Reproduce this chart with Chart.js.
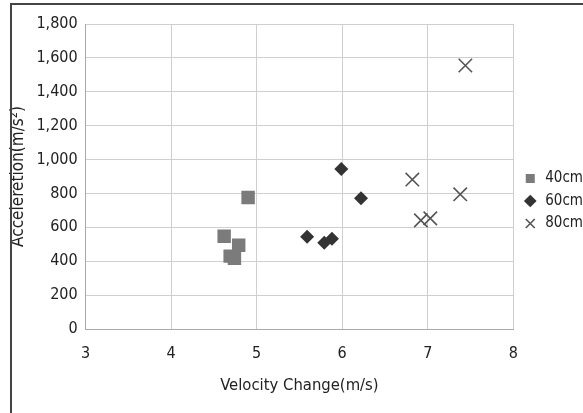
<!DOCTYPE html>
<html>

<head>
    <title>Acceleration vs Velocity Change</title>
    <script src="https://cdn.jsdelivr.net/npm/chart.js"></script>
    <style>
        body { margin: 0; background: #fff; overflow: hidden; }
        #wrap { position: relative; width: 583px; height: 413px; }
        #frame {
            position: absolute; left: 10px; top: 3px; width: 600px; height: 500px;
            border-top: 2px solid #444; border-left: 2px solid #444; pointer-events: none;
        }
    </style>
</head>

<body>
    <div id="wrap">
        <canvas id="myChart" width="583" height="413"></canvas>
        <div id="frame"></div>
    </div>

    <script>
        // values
        const seriesNames = ['40cm', '60cm', '80cm'];
        const vel40 = [4.62, 4.79, 4.69, 4.74, 4.90];
        const acc40 = [547, 494, 430, 418, 776];
        const vel60 = [5.59, 5.79, 5.88, 5.99, 6.22];
        const acc60 = [545, 509, 533, 945, 772];
        const vel80 = [6.82, 6.92, 7.03, 7.38, 7.44];
        const acc80 = [882, 641, 653, 795, 1555];
        const xTicks = [3, 4, 5, 6, 7, 8];
        const yTicks = [0, 200, 400, 600, 800, 1000, 1200, 1400, 1600, 1800];

        const font = "'Liberation Sans Narrow', 'DejaVu Sans Condensed', Arial, sans-serif";
        const toPoints = (xs, ys) => xs.map((x, i) => ({ x, y: ys[i] }));

        // nudge the legend block a little up/right of where the layout puts it
        const legendNudge = {
            id: 'legendNudge',
            afterLayout(chart) {
                const lg = chart.legend;
                lg.top -= 11; lg.bottom -= 11;
                lg.left += 2; lg.right += 2;
            }
        };

        const chartData = {
            datasets: [
                {
                    label: seriesNames[0],
                    data: toPoints(vel40, acc40),
                    pointStyle: 'rect',
                    pointRadius: 9.5,
                    backgroundColor: '#7b7b7b',
                    borderColor: '#7b7b7b',
                    borderWidth: 0
                },
                {
                    label: seriesNames[1],
                    data: toPoints(vel60, acc60),
                    pointStyle: 'rectRot',
                    pointRadius: 7,
                    backgroundColor: '#333',
                    borderColor: '#333',
                    borderWidth: 0
                },
                {
                    label: seriesNames[2],
                    data: toPoints(vel80, acc80),
                    pointStyle: 'crossRot',
                    pointRadius: 9.5,
                    backgroundColor: '#555',
                    borderColor: '#555',
                    borderWidth: 1.6
                }
            ]
        };

        const chartOptions = {
            responsive: false,
            animation: false,
            layout: { padding: { left: 4, top: 24, right: -8, bottom: 13 } },
            scales: {
                x: {
                    type: 'linear',
                    min: xTicks[0],
                    max: xTicks[xTicks.length - 1],
                    afterBuildTicks: (scale) => { scale.ticks = xTicks.map(v => ({ value: v })); },
                    grid: { color: '#cfcfcf', drawTicks: false },
                    border: { color: '#aaa' },
                    ticks: { color: '#222', padding: 15, font: { family: font, size: 16 } },
                    title: {
                        display: true,
                        text: 'Velocity Change(m/s)',
                        color: '#222',
                        font: { family: font, size: 16.5 },
                        padding: { top: -2 }
                    }
                },
                y: {
                    min: yTicks[0],
                    max: yTicks[yTicks.length - 1],
                    afterBuildTicks: (scale) => { scale.ticks = yTicks.map(v => ({ value: v })); },
                    grid: { color: '#cfcfcf', drawTicks: false },
                    border: { color: '#aaa' },
                    ticks: { color: '#222', padding: 8, font: { family: font, size: 16 } },
                    title: {
                        display: true,
                        text: 'Acceleretion(m/s²)',
                        color: '#222',
                        font: { family: font, size: 17 },
                        padding: { bottom: 0 }
                    }
                }
            },
            plugins: {
                legend: {
                    position: 'right',
                    labels: {
                        usePointStyle: true,
                        boxWidth: 15,
                        boxHeight: 9,
                        padding: 7.5,
                        color: '#222',
                        font: { family: font, size: 15 }
                    }
                },
                tooltip: { enabled: false }
            }
        };

        const chart = new Chart('myChart', {
            type: 'scatter',
            data: chartData,
            options: chartOptions,
            plugins: [legendNudge]
        });
    </script>
</body>

</html>
